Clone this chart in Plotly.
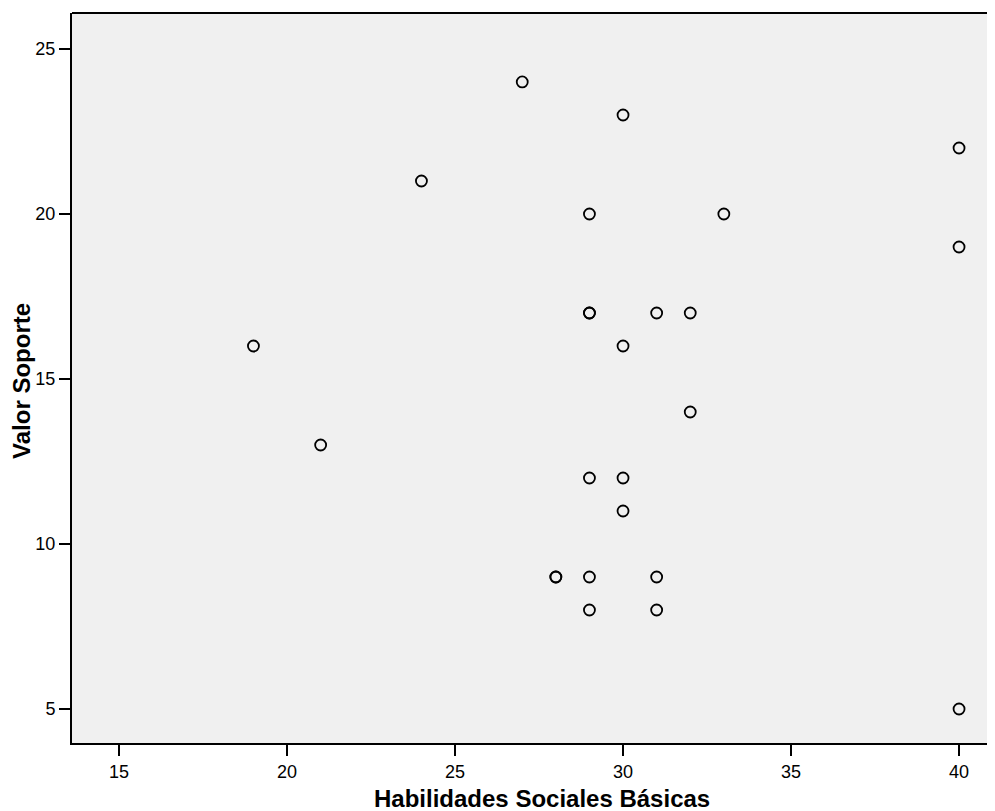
import plotly.graph_objects as go

habilidades = [27, 30, 40, 24, 29, 33, 40, 29, 29, 31, 32, 19, 30, 32, 21, 29, 30, 30, 28, 28, 29, 31, 29, 31, 40]
valor_soporte = [24, 23, 22, 21, 20, 20, 19, 17, 17, 17, 17, 16, 16, 14, 13, 12, 12, 11, 9, 9, 9, 9, 8, 8, 5]
x_ticks = [15, 20, 25, 30, 35, 40]
y_ticks = [5, 10, 15, 20, 25]
x_title = "Habilidades Sociales Básicas"
y_title = "Valor Soporte"

fig = go.Figure()
fig.add_trace(go.Scatter(
    x=habilidades, y=valor_soporte, mode="markers",
    marker=dict(symbol="circle-open", size=11, color="black", line=dict(width=1.8, color="black")),
    showlegend=False, hoverinfo="x+y",
))

font_family = "Liberation Sans, Arial, sans-serif"
# page body has an 8px margin, so the figure is sized to the remaining area
fig.update_layout(
    width=987, height=803,
    margin=dict(l=64, r=0, t=5, b=68),
    paper_bgcolor="white", plot_bgcolor="#f0f0f0",
    font=dict(family=font_family, color="black", size=18),
    xaxis=dict(
        range=[13.6, 41.07], tickvals=x_ticks, ticktext=[str(v) for v in x_ticks],
        showgrid=False, zeroline=False, showline=True, linecolor="black", linewidth=2,
        ticks="outside", ticklen=11, tickwidth=2, tickcolor="black",
        tickfont=dict(size=18, family=font_family),
    ),
    yaxis=dict(
        range=[3.97, 26.09], tickvals=y_ticks, ticktext=[str(v) for v in y_ticks],
        showgrid=False, zeroline=False, showline=True, linecolor="black", linewidth=2,
        ticks="outside", ticklen=11, tickwidth=2, tickcolor="black",
        tickfont=dict(size=18, family=font_family),
    ),
    shapes=[dict(type="line", xref="paper", yref="paper", x0=0, x1=1, y0=1, y1=1,
                 line=dict(color="black", width=2))],
    annotations=[
        dict(text="<b>" + x_title + "</b>", xref="paper", yref="paper", x=0.509, y=0,
             xanchor="center", yanchor="middle", yshift=-55, showarrow=False, borderpad=0,
             font=dict(size=24, family=font_family, color="black")),
        dict(text="<b>" + y_title + "</b>", xref="paper", yref="paper", x=0, y=0.496,
             xanchor="center", yanchor="middle", xshift=-50, textangle=-90, showarrow=False, borderpad=0,
             font=dict(size=24, family=font_family, color="black")),
    ],
)

fig.write_html("out.html")
